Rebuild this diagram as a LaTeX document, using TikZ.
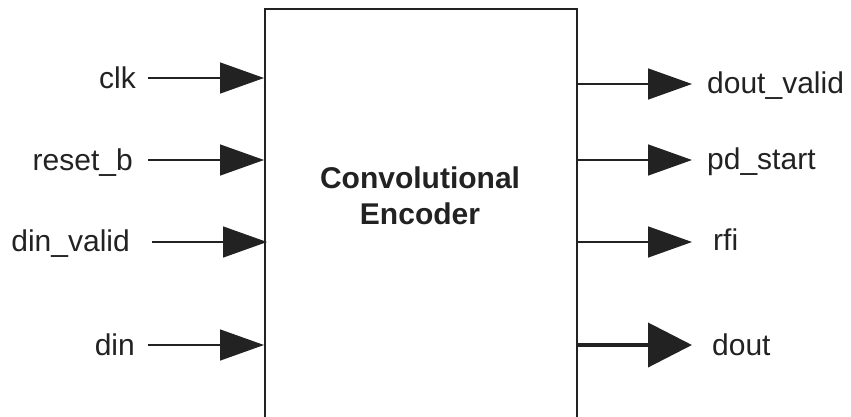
\documentclass[tikz,border=0pt]{standalone}
\usepackage{fontspec}
\setmainfont{Liberation Sans}
\usetikzlibrary{arrows.meta}
\definecolor{ink}{HTML}{222222}
\tikzset{
  lbl/.style={inner sep=0pt, text=ink, font=\fontsize{30}{36}\selectfont},
  sig/.style={draw=ink, line width=1.5pt, -{Triangle[length=44pt,width=31pt]}},
  bus/.style={draw=ink, line width=4pt, -{Triangle[length=44pt,width=44pt]}},
  blk/.style={draw=ink, line width=1.6pt, minimum width=312pt, minimum height=440pt, inner sep=0pt, anchor=north west}
}
\begin{document}
\begin{tikzpicture}[x=1pt,y=-1pt]
\useasboundingbox (0,0) rectangle (851,416);
\clip (0,0) rectangle (851,416);
\node[blk] (enc) at (264,8) {};
\node[lbl, font=\fontsize{30}{36}\selectfont\bfseries, align=center] (title) at (420,196) {Convolutional\\Encoder};
% inputs
\node[lbl, anchor=base east] (clk) at (136,88) {clk};
\node[lbl, anchor=base east] (rst) at (133,170) {reset\_b};
\node[lbl, anchor=base east] (dinv) at (130,251) {din\_valid};
\node[lbl, anchor=base east] (din) at (135,355) {din};
\coordinate (clkin) at (148,78);
\coordinate (rstin) at (148,160);
\coordinate (dinvin) at (152,242);
\coordinate (dinin) at (148,345);
\draw[sig] (clkin) -- (clkin -| enc.west);
\draw[sig] (rstin) -- (rstin -| enc.west);
\draw[sig] (dinvin) -- ([xshift=3pt]dinvin -| enc.west);
\draw[sig] (dinin) -- (dinin -| enc.west);
% outputs
\node[lbl, anchor=base west] (dv) at (707,93) {dout\_valid};
\node[lbl, anchor=base west] (pds) at (707,169) {pd\_start};
\node[lbl, anchor=base west] (rfi) at (713,250) {rfi};
\node[lbl, anchor=base west] (dout) at (712,355) {dout};
\coordinate (dvo) at (692,84);
\coordinate (pdo) at (692,160);
\coordinate (rfio) at (692,242);
\coordinate (douto) at (692,345);
\draw[sig] (dvo -| enc.east) -- (dvo);
\draw[sig] (pdo -| enc.east) -- (pdo);
\draw[sig] (rfio -| enc.east) -- (rfio);
\draw[bus] (douto -| enc.east) -- (douto);
\end{tikzpicture}
\end{document}
